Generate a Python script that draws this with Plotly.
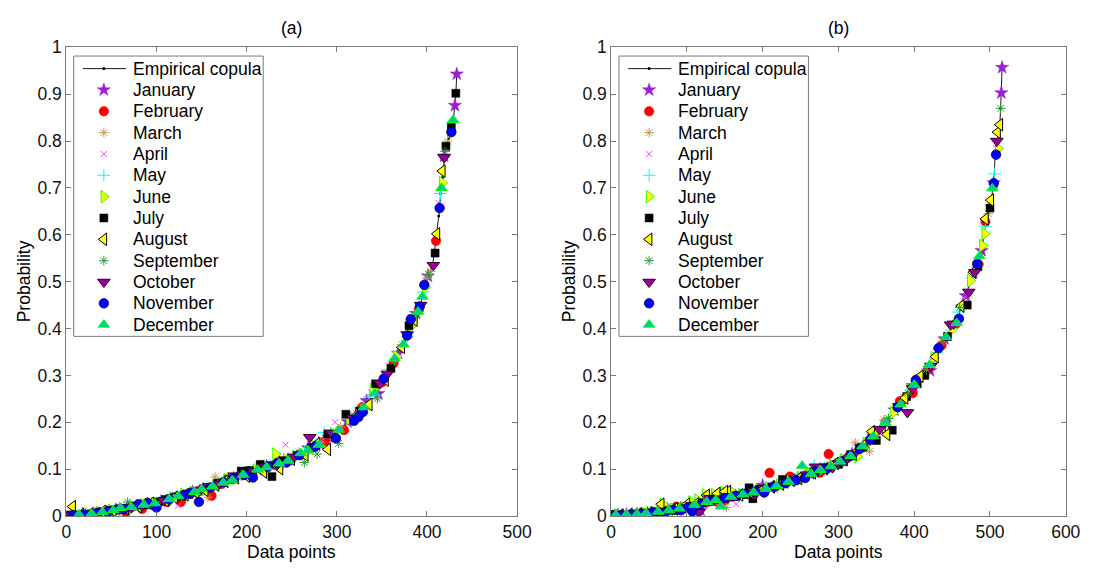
import plotly.graph_objects as go

# ---------------- panel (a) ----------------
copula_a_x = [0, 10, 20, 30, 40, 50, 60, 70, 80, 90, 100, 110, 120, 130, 140, 150, 160, 170, 180, 190,
              200, 210, 220, 230, 240, 250, 260, 270, 280, 290, 300, 310, 320, 330, 340, 350, 360, 370,
              375, 380, 385, 390, 395, 398, 402, 406, 408, 410, 411, 413, 414, 415, 417, 418, 419, 421,
              424, 427, 429, 431, 432, 433]
copula_a_y = [0.000, 0.002, 0.003, 0.005, 0.008, 0.011, 0.014, 0.018, 0.021, 0.025, 0.029, 0.034, 0.039,
              0.044, 0.050, 0.056, 0.062, 0.069, 0.076, 0.083, 0.090, 0.097, 0.104, 0.110, 0.117, 0.124,
              0.132, 0.142, 0.153, 0.166, 0.180, 0.197, 0.215, 0.237, 0.262, 0.290, 0.320, 0.352, 0.372,
              0.396, 0.418, 0.438, 0.466, 0.490, 0.515, 0.535, 0.560, 0.588, 0.602, 0.640, 0.657, 0.688,
              0.722, 0.740, 0.765, 0.789, 0.805, 0.822, 0.840, 0.876, 0.902, 0.943]

a_jan_x = [8, 30, 55, 78, 105, 128, 152, 175, 198, 222, 246, 268, 291, 312, 333, 346, 368, 388, 401, 419,
           431, 433, 18, 44, 90, 140, 186, 212, 236, 280]
a_jan_y = [0.002, 0.005, 0.013, 0.020, 0.031, 0.043, 0.057, 0.073, 0.088, 0.106, 0.120, 0.145, 0.168, 0.201,
           0.246, 0.261, 0.347, 0.432, 0.512, 0.768, 0.876, 0.943, 0.004, 0.009, 0.025, 0.051, 0.080,
           0.099, 0.114, 0.155]
a_feb_x = [2, 14, 22, 36, 66, 84, 112, 127, 150, 161, 184, 206, 233, 250, 271, 287, 308, 328, 350, 363,
           391, 410, 28, 50, 96, 138, 172, 196, 222, 260]
a_feb_y = [0.000, 0.002, 0.002, 0.009, 0.008, 0.015, 0.030, 0.030, 0.054, 0.043, 0.079, 0.088, 0.108, 0.121,
           0.145, 0.160, 0.183, 0.232, 0.285, 0.326, 0.440, 0.587, 0.004, 0.011, 0.027, 0.048, 0.068,
           0.090, 0.103, 0.130]
a_mar_x = [18, 42, 70, 96, 122, 144, 157, 165, 190, 214, 238, 258, 282, 304, 326, 344, 372, 400, 404, 423,
           6, 58, 84, 110, 134, 178, 226, 270]
a_mar_y = [0.006, 0.010, 0.022, 0.028, 0.042, 0.054, 0.040, 0.083, 0.085, 0.101, 0.116, 0.136, 0.158, 0.190,
           0.230, 0.272, 0.366, 0.508, 0.522, 0.800, 0.003, 0.015, 0.023, 0.036, 0.048, 0.077, 0.108,
           0.141]
a_apr_x = [12, 38, 62, 88, 108, 124, 146, 172, 196, 218, 243, 262, 283, 298, 318, 338, 358, 384, 399, 413,
           26, 50, 76, 100, 160, 184, 206, 230]
a_apr_y = [0.003, 0.007, 0.016, 0.024, 0.028, 0.022, 0.058, 0.064, 0.084, 0.107, 0.152, 0.133, 0.160, 0.200,
           0.214, 0.264, 0.318, 0.420, 0.500, 0.668, 0.005, 0.010, 0.019, 0.030, 0.064, 0.078, 0.095,
           0.112]
a_may_x = [6, 34, 58, 82, 104, 134, 156, 178, 202, 226, 252, 276, 286, 316, 336, 356, 378, 396, 415, 428,
           18, 46, 70, 118, 146, 190, 214, 264]
a_may_y = [0.002, 0.006, 0.014, 0.023, 0.030, 0.047, 0.060, 0.077, 0.093, 0.108, 0.128, 0.153, 0.178, 0.210,
           0.254, 0.312, 0.382, 0.478, 0.688, 0.840, 0.003, 0.010, 0.018, 0.040, 0.053, 0.086, 0.100,
           0.136]
a_jun_x = [24, 50, 74, 98, 118, 140, 166, 188, 210, 232, 254, 274, 296, 314, 340, 366, 382, 398, 417, 426,
           10, 36, 62, 86, 130, 154, 178, 244]
a_jun_y = [0.004, 0.012, 0.019, 0.027, 0.038, 0.050, 0.067, 0.081, 0.098, 0.132, 0.126, 0.150, 0.176, 0.208,
           0.270, 0.340, 0.405, 0.488, 0.711, 0.820, 0.003, 0.007, 0.016, 0.024, 0.046, 0.057, 0.078,
           0.120]
a_jul_x = [4, 28, 48, 76, 102, 120, 136, 168, 194, 203, 215, 228, 256, 290, 310, 325, 343, 360, 380, 409,
           421, 427, 432, 16, 38, 62, 90, 110, 152, 180, 240, 272]
a_jul_y = [0.002, 0.004, 0.012, 0.021, 0.030, 0.040, 0.046, 0.070, 0.096, 0.097, 0.110, 0.084, 0.129, 0.175,
           0.217, 0.224, 0.282, 0.315, 0.406, 0.561, 0.789, 0.829, 0.902, 0.002, 0.008, 0.015, 0.024,
           0.035, 0.058, 0.078, 0.118, 0.146]
a_aug_x = [7, 26, 52, 80, 110, 132, 154, 176, 200, 219, 237, 265, 278, 290, 320, 336, 354, 372, 386, 411,
           417, 16, 40, 66, 94, 120, 144, 166, 188, 250]
a_aug_y = [0.020, 0.004, 0.011, 0.020, 0.033, 0.045, 0.055, 0.074, 0.085, 0.094, 0.101, 0.130, 0.154, 0.142,
           0.212, 0.238, 0.290, 0.360, 0.418, 0.602, 0.736, 0.003, 0.009, 0.016, 0.027, 0.040, 0.050,
           0.066, 0.082, 0.121]
a_sep_x = [16, 44, 68, 92, 116, 138, 160, 182, 205, 230, 248, 264, 278, 302, 322, 345, 364, 388, 402, 420,
           4, 30, 56, 80, 104, 126, 172, 194, 218]
a_sep_y = [0.003, 0.010, 0.030, 0.026, 0.037, 0.052, 0.062, 0.078, 0.094, 0.108, 0.119, 0.114, 0.132, 0.155,
           0.218, 0.250, 0.330, 0.430, 0.515, 0.778, 0.002, 0.005, 0.013, 0.022, 0.031, 0.044, 0.070,
           0.088, 0.102]
a_oct_x = [10, 32, 56, 72, 94, 126, 148, 170, 186, 208, 234, 270, 294, 318, 348, 356, 378, 393, 407, 419,
           4, 20, 44, 84, 108, 114, 136, 158, 196, 222, 252]
a_oct_y = [0.002, 0.006, 0.015, 0.018, 0.026, 0.043, 0.055, 0.069, 0.086, 0.096, 0.110, 0.168, 0.177, 0.209,
           0.283, 0.303, 0.387, 0.450, 0.535, 0.765, 0.002, 0.004, 0.010, 0.022, 0.033, 0.036, 0.049,
           0.063, 0.088, 0.105, 0.126]
a_nov_x = [20, 46, 64, 80, 100, 130, 147, 174, 198, 207, 224, 244, 258, 299, 319, 324, 329, 352, 378, 382,
           392, 397, 414, 427, 8, 34, 58, 90, 114, 138, 160, 186, 234, 276]
a_nov_y = [0.003, 0.009, 0.015, 0.025, 0.018, 0.044, 0.030, 0.072, 0.088, 0.082, 0.106, 0.114, 0.130, 0.166,
           0.203, 0.211, 0.222, 0.293, 0.385, 0.420, 0.447, 0.493, 0.657, 0.819, 0.002, 0.006, 0.014,
           0.028, 0.036, 0.049, 0.061, 0.080, 0.113, 0.148]
a_dec_x = [14, 40, 60, 86, 114, 142, 162, 184, 212, 236, 260, 280, 302, 330, 342, 364, 374, 390, 395, 416,
           429, 28, 52, 72, 98, 124, 150, 174, 196, 222, 246, 268]
a_dec_y = [0.003, 0.008, 0.017, 0.024, 0.036, 0.051, 0.063, 0.076, 0.099, 0.112, 0.134, 0.152, 0.184, 0.232,
           0.262, 0.336, 0.366, 0.436, 0.468, 0.700, 0.845, 0.005, 0.012, 0.019, 0.027, 0.042, 0.057,
           0.071, 0.088, 0.104, 0.118, 0.140]

# ---------------- panel (b) ----------------
copula_b_x = [0, 10, 20, 30, 40, 50, 60, 70, 80, 90, 100, 110, 120, 130, 140, 150, 160, 170, 180, 190,
              200, 210, 220, 230, 240, 250, 260, 270, 280, 290, 300, 310, 320, 330, 340, 350, 360, 370,
              380, 390, 400, 410, 420, 430, 440, 450, 458, 462, 470, 475, 480, 485, 488, 490, 493, 496,
              500, 502, 504, 505, 507, 509, 510, 511, 513, 514, 515, 516]
copula_b_y = [0.000, 0.002, 0.003, 0.004, 0.005, 0.006, 0.008, 0.011, 0.013, 0.016, 0.019, 0.023, 0.027,
              0.031, 0.035, 0.039, 0.042, 0.045, 0.048, 0.052, 0.056, 0.060, 0.065, 0.071, 0.077, 0.082,
              0.089, 0.095, 0.101, 0.107, 0.114, 0.123, 0.134, 0.146, 0.159, 0.176, 0.196, 0.215, 0.236,
              0.258, 0.281, 0.302, 0.322, 0.354, 0.378, 0.400, 0.421, 0.448, 0.480, 0.503, 0.524, 0.540,
              0.556, 0.577, 0.602, 0.634, 0.657, 0.675, 0.700, 0.711, 0.776, 0.790, 0.802, 0.819, 0.835,
              0.870, 0.903, 0.957]

b_jan_x = [9, 34, 62, 92, 118, 147, 178, 200, 228, 262, 289, 318, 346, 374, 398, 421, 440, 468, 489, 505,
           515, 516, 20, 48, 76, 104, 134, 164, 214, 246, 276, 304, 332]
b_jan_y = [0.002, 0.004, 0.009, 0.017, 0.012, 0.036, 0.048, 0.065, 0.070, 0.090, 0.107, 0.132, 0.170, 0.226,
           0.278, 0.310, 0.378, 0.470, 0.566, 0.711, 0.903, 0.957, 0.003, 0.006, 0.012, 0.021, 0.033,
           0.043, 0.062, 0.080, 0.099, 0.118, 0.148]
b_feb_x = [0, 22, 44, 70, 86, 112, 140, 160, 196, 209, 236, 258, 275, 287, 312, 338, 362, 381, 398, 418,
           436, 455, 485, 494, 10, 32, 56, 98, 126, 150, 178, 222, 248, 300]
b_feb_y = [0.001, 0.001, 0.004, 0.006, 0.020, 0.020, 0.030, 0.041, 0.055, 0.092, 0.084, 0.088, 0.092, 0.132,
           0.124, 0.158, 0.200, 0.245, 0.262, 0.314, 0.364, 0.410, 0.537, 0.628, 0.001, 0.004, 0.007,
           0.017, 0.029, 0.033, 0.047, 0.067, 0.081, 0.113]
b_mar_x = [14, 40, 74, 104, 130, 152, 180, 206, 232, 256, 282, 322, 341, 360, 386, 406, 431, 452, 472, 498,
           26, 60, 90, 116, 166, 194, 220, 268, 296]
b_mar_y = [0.003, 0.005, 0.020, 0.020, 0.031, 0.018, 0.048, 0.058, 0.072, 0.086, 0.102, 0.156, 0.138, 0.205,
           0.253, 0.296, 0.356, 0.405, 0.475, 0.645, 0.004, 0.010, 0.015, 0.026, 0.044, 0.054, 0.064,
           0.094, 0.111]
b_apr_x = [18, 48, 78, 108, 128, 165, 188, 214, 246, 272, 298, 326, 352, 376, 402, 424, 446, 466, 480, 508,
           4, 34, 62, 92, 140, 154, 200, 230, 258, 312]
b_apr_y = [0.003, 0.006, 0.013, 0.022, 0.030, 0.025, 0.050, 0.063, 0.080, 0.096, 0.112, 0.141, 0.179, 0.230,
           0.286, 0.330, 0.392, 0.465, 0.523, 0.785, 0.001, 0.004, 0.009, 0.016, 0.034, 0.048, 0.057,
           0.072, 0.088, 0.124]
b_may_x = [6, 38, 66, 96, 124, 156, 184, 218, 244, 268, 294, 334, 356, 384, 410, 430, 458, 476, 494, 506,
           16, 52, 80, 110, 140, 170, 202, 232, 256, 282, 316]
b_may_y = [0.002, 0.005, 0.010, 0.018, 0.028, 0.040, 0.050, 0.064, 0.079, 0.108, 0.110, 0.150, 0.190, 0.240,
           0.302, 0.348, 0.435, 0.508, 0.618, 0.730, 0.002, 0.007, 0.013, 0.023, 0.035, 0.046, 0.058,
           0.072, 0.088, 0.104, 0.128]
b_jun_x = [30, 56, 82, 114, 124, 148, 172, 194, 222, 250, 278, 306, 325, 348, 372, 394, 426, 450, 474, 490,
           493, 511, 8, 44, 68, 96, 106, 136, 160, 184, 208, 236, 262, 292, 336]
b_jun_y = [0.004, 0.008, 0.014, 0.034, 0.045, 0.050, 0.046, 0.054, 0.066, 0.081, 0.100, 0.119, 0.126, 0.178,
           0.220, 0.268, 0.338, 0.398, 0.502, 0.577, 0.602, 0.784, 0.002, 0.006, 0.025, 0.018, 0.030,
           0.046, 0.051, 0.049, 0.060, 0.073, 0.090, 0.108, 0.155]
b_jul_x = [4, 28, 58, 88, 120, 136, 182, 187, 212, 226, 254, 282, 300, 316, 350, 371, 390, 404, 414, 444,
           470, 484, 500, 16, 44, 72, 104, 150, 164, 196, 240, 268, 330]
b_jul_y = [0.002, 0.003, 0.008, 0.016, 0.028, 0.035, 0.060, 0.037, 0.062, 0.078, 0.083, 0.103, 0.110, 0.131,
           0.161, 0.183, 0.255, 0.282, 0.300, 0.383, 0.450, 0.532, 0.657, 0.002, 0.005, 0.011, 0.021,
           0.038, 0.042, 0.057, 0.077, 0.094, 0.146]
b_aug_x = [12, 50, 66, 100, 126, 154, 170, 198, 224, 248, 266, 296, 320, 344, 358, 364, 388, 408, 428, 462,
           478, 494, 501, 510, 513, 24, 36, 84, 112, 140, 150, 184, 212, 238, 282, 308, 334]
b_aug_y = [0.002, 0.006, 0.025, 0.025, 0.044, 0.052, 0.045, 0.054, 0.068, 0.080, 0.092, 0.112, 0.132, 0.180,
           0.188, 0.174, 0.252, 0.298, 0.340, 0.448, 0.520, 0.634, 0.674, 0.819, 0.835, 0.003, 0.004,
           0.015, 0.026, 0.048, 0.052, 0.050, 0.062, 0.076, 0.101, 0.120, 0.152]
b_sep_x = [8, 36, 64, 94, 134, 162, 186, 216, 240, 264, 290, 314, 336, 366, 392, 416, 438, 460, 482, 514,
           22, 50, 78, 108, 122, 148, 174, 200, 228, 252, 278, 302]
b_sep_y = [0.005, 0.004, 0.009, 0.017, 0.032, 0.043, 0.051, 0.064, 0.077, 0.091, 0.108, 0.127, 0.152, 0.208,
           0.262, 0.312, 0.372, 0.445, 0.531, 0.870, 0.003, 0.007, 0.012, 0.022, 0.028, 0.039, 0.046,
           0.056, 0.070, 0.083, 0.099, 0.115]
b_oct_x = [16, 42, 72, 98, 116, 144, 168, 190, 220, 242, 270, 292, 310, 330, 354, 380, 391, 398, 422, 448,
           452, 472, 480, 509, 4, 28, 56, 84, 106, 130, 156, 180, 206, 232, 258, 284, 300, 320]
b_oct_y = [0.003, 0.005, 0.011, 0.018, 0.008, 0.037, 0.044, 0.046, 0.066, 0.077, 0.105, 0.103, 0.120, 0.146,
           0.185, 0.234, 0.221, 0.272, 0.320, 0.408, 0.410, 0.478, 0.520, 0.800, 0.002, 0.003, 0.008,
           0.014, 0.022, 0.038, 0.042, 0.048, 0.059, 0.072, 0.088, 0.104, 0.112, 0.131]
b_nov_x = [2, 26, 56, 70, 102, 107, 132, 176, 202, 230, 256, 284, 304, 328, 342, 378, 402, 432, 459, 483,
           505, 508, 14, 40, 82, 92, 118, 150, 164, 190, 214, 244, 270, 316]
b_nov_y = [0.002, 0.003, 0.008, 0.006, 0.019, 0.010, 0.032, 0.047, 0.050, 0.070, 0.081, 0.100, 0.116, 0.143,
           0.163, 0.232, 0.290, 0.358, 0.421, 0.538, 0.710, 0.771, 0.002, 0.005, 0.013, 0.012, 0.025,
           0.038, 0.043, 0.052, 0.062, 0.076, 0.095, 0.128]
b_dec_x = [20, 46, 76, 110, 138, 145, 174, 204, 234, 252, 276, 302, 332, 362, 382, 400, 420, 442, 456, 486,
           503, 6, 34, 62, 90, 126, 158, 188, 218, 264, 290, 316, 346]
b_dec_y = [0.003, 0.006, 0.012, 0.024, 0.034, 0.020, 0.046, 0.058, 0.073, 0.107, 0.098, 0.116, 0.149, 0.199,
           0.238, 0.280, 0.322, 0.382, 0.412, 0.554, 0.699, 0.002, 0.004, 0.009, 0.016, 0.030, 0.041,
           0.050, 0.064, 0.090, 0.106, 0.128, 0.170]

month_names = ["January", "February", "March", "April", "May", "June", "July", "August",
               "September", "October", "November", "December"]
x_ticks_a = [0, 100, 200, 300, 400, 500]
x_ticks_b = [0, 100, 200, 300, 400, 500, 600]
y_ticks = [0, 0.1, 0.2, 0.3, 0.4, 0.5, 0.6, 0.7, 0.8, 0.9, 1]

panel_a = [(a_jan_x, a_jan_y), (a_feb_x, a_feb_y), (a_mar_x, a_mar_y), (a_apr_x, a_apr_y),
           (a_may_x, a_may_y), (a_jun_x, a_jun_y), (a_jul_x, a_jul_y), (a_aug_x, a_aug_y),
           (a_sep_x, a_sep_y), (a_oct_x, a_oct_y), (a_nov_x, a_nov_y), (a_dec_x, a_dec_y)]
panel_b = [(b_jan_x, b_jan_y), (b_feb_x, b_feb_y), (b_mar_x, b_mar_y), (b_apr_x, b_apr_y),
           (b_may_x, b_may_y), (b_jun_x, b_jun_y), (b_jul_x, b_jul_y), (b_aug_x, b_aug_y),
           (b_sep_x, b_sep_y), (b_oct_x, b_oct_y), (b_nov_x, b_nov_y), (b_dec_x, b_dec_y)]

# marker style of each month
month_markers = [
    dict(symbol="star", size=10, color="#9A1FD6", line=dict(color="#9A1FD6", width=0.5)),
    dict(symbol="circle", size=9.5, color="#FF0000", line=dict(color="#FF0000", width=0.5)),
    dict(symbol="asterisk-open", size=8, color="#C8965A", line=dict(color="#C8965A", width=1)),
    dict(symbol="x-thin-open", size=6, color="#FF40FF", line=dict(color="#FF40FF", width=1)),
    dict(symbol="cross-thin-open", size=9, color="#00FFFF", line=dict(color="#00FFFF", width=1)),
    dict(symbol="triangle-right", size=11, color="#FFFF00", line=dict(color="#33FF00", width=1)),
    dict(symbol="square", size=8, color="#000000", line=dict(color="#000000", width=0.5)),
    dict(symbol="triangle-left", size=11, color="#FFFF00", line=dict(color="#000000", width=1)),
    dict(symbol="asterisk-open", size=8, color="#2E9A3E", line=dict(color="#2E9A3E", width=1)),
    dict(symbol="triangle-down", size=11, color="#990099", line=dict(color="#330033", width=1)),
    dict(symbol="circle", size=9.5, color="#0000FF", line=dict(color="#000033", width=0.7)),
    dict(symbol="triangle-up", size=10, color="#00CC99", line=dict(color="#00FF00", width=1)),
]

W, H = 1094, 581
FONT = "Liberation Sans, Arial, Helvetica, sans-serif"
FS = 17.5
AXIS_GREY = "#7a7a7a"

# plot-area pixel boxes (left, right, top, bottom)
box_a = (62.5, 521.7, 38.7, 524.0)
box_b = (617.5, 1080.5, 38.7, 524.0)


def dom_x(b):
    return [b[0] / W, b[1] / W]


def dom_y(b):
    return [1 - b[3] / H, 1 - b[2] / H]


fig = go.Figure()

copula_line = dict(color="#1a1a1a", width=1)
copula_dot = dict(size=3, color="#000000")

for (cx, cy, series, xa, ya) in [(copula_a_x, copula_a_y, panel_a, "x", "y"),
                                 (copula_b_x, copula_b_y, panel_b, "x2", "y2")]:
    fig.add_trace(go.Scatter(x=cx, y=cy, mode="lines+markers", line=copula_line, marker=copula_dot,
                             xaxis=xa, yaxis=ya, showlegend=False, hoverinfo="skip"))
    for (mx, my), mk in zip(series, month_markers):
        fig.add_trace(go.Scatter(x=mx, y=my, mode="markers", marker=mk, xaxis=xa, yaxis=ya,
                                 showlegend=False, hoverinfo="skip"))

# legend drawn on a full-page pixel overlay
ROW0, STEP = 60.7, 22.1
LEG_LEFT, LEG_RIGHT, LEG_TOP, LEG_BOTTOM = 70.0, 263.0, 47.7, 338.0
GLYPH_X, TEXT_X, LINE_X0, LINE_X1 = 100.7, 128.3, 79.3, 123.3

shapes = []
annotations = []
for shift in (0.0, box_b[0] - box_a[0] + 0.4):
    shapes.append(dict(type="rect", xref="x3", yref="y3",
                       x0=LEG_LEFT + shift, x1=LEG_RIGHT + shift, y0=LEG_TOP, y1=LEG_BOTTOM,
                       line=dict(color=AXIS_GREY, width=1), fillcolor="white", layer="below"))
    fig.add_trace(go.Scatter(x=[LINE_X0 + shift, GLYPH_X + shift, LINE_X1 + shift], y=[ROW0] * 3,
                             mode="lines", line=copula_line, xaxis="x3", yaxis="y3",
                             showlegend=False, hoverinfo="skip"))
    fig.add_trace(go.Scatter(x=[GLYPH_X + shift], y=[ROW0], mode="markers", marker=copula_dot,
                             xaxis="x3", yaxis="y3", showlegend=False, hoverinfo="skip"))
    labels = ["Empirical copula"] + month_names
    for i, lab in enumerate(labels):
        annotations.append(dict(text=lab, xref="x3", yref="y3", x=TEXT_X + shift, y=ROW0 + STEP * i,
                                xanchor="left", yanchor="middle", showarrow=False,
                                font=dict(family=FONT, size=FS, color="#000000")))
    for i, mk in enumerate(month_markers):
        fig.add_trace(go.Scatter(x=[GLYPH_X + shift], y=[ROW0 + STEP * (i + 1)], mode="markers",
                                 marker=mk, xaxis="x3", yaxis="y3", showlegend=False,
                                 hoverinfo="skip"))

# titles and axis labels
for b, tag in ((box_a, "(a)"), (box_b, "(b)")):
    cx = (b[0] + b[1]) / 2
    annotations.append(dict(text=tag, xref="x3", yref="y3", x=cx, y=18.5, showarrow=False,
                            xanchor="center", yanchor="middle",
                            font=dict(family=FONT, size=FS, color="#000000")))
    annotations.append(dict(text="Data points", xref="x3", yref="y3", x=cx, y=561, showarrow=False,
                            xanchor="center", yanchor="middle",
                            font=dict(family=FONT, size=FS, color="#000000")))
    annotations.append(dict(text="Probability", xref="x3", yref="y3", x=b[0] - 43.5, y=(b[2] + b[3]) / 2,
                            textangle=-90, showarrow=False, xanchor="center", yanchor="middle",
                            font=dict(family=FONT, size=FS, color="#000000")))

axis_common = dict(showgrid=False, zeroline=False, showline=True, linecolor=AXIS_GREY, linewidth=1,
                   mirror="allticks", ticks="inside", ticklen=5, tickcolor=AXIS_GREY, tickwidth=1,
                   tickfont=dict(family=FONT, size=FS, color="#111111"), fixedrange=True)

fig.update_layout(
    width=W, height=H,
    margin=dict(l=0, r=0, t=0, b=0),
    paper_bgcolor="white",
    plot_bgcolor="rgba(0,0,0,0)",
    showlegend=False,
    xaxis=dict(domain=dom_x(box_a), range=[0, 500], tickvals=x_ticks_a, anchor="y", **axis_common),
    yaxis=dict(domain=dom_y(box_a), range=[0, 1], tickvals=y_ticks, anchor="x", **axis_common),
    xaxis2=dict(domain=dom_x(box_b), range=[0, 600], tickvals=x_ticks_b, anchor="y2", **axis_common),
    yaxis2=dict(domain=dom_y(box_b), range=[0, 1], tickvals=y_ticks, anchor="x2", **axis_common),
    xaxis3=dict(domain=[0, 1], range=[0, W], visible=False, anchor="y3", fixedrange=True),
    yaxis3=dict(domain=[0, 1], range=[H, 0], visible=False, anchor="x3", fixedrange=True),
    shapes=shapes,
    annotations=annotations,
)

fig.write_html("out.html")
